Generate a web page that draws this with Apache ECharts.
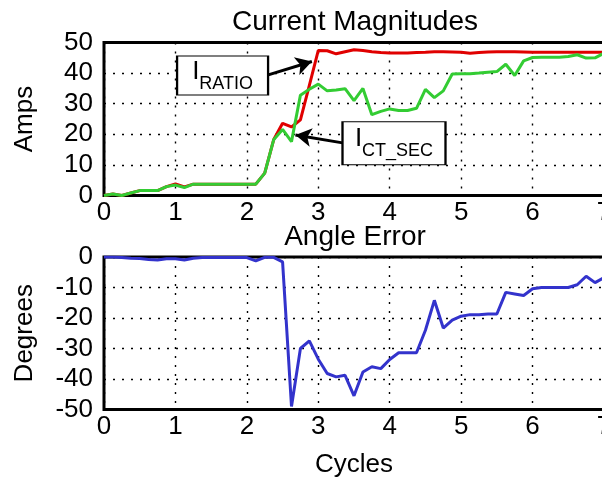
<!DOCTYPE html>
<html>
<head>
<meta charset="utf-8">
<script src="https://cdn.jsdelivr.net/npm/echarts@6/dist/echarts.min.js"></script>
<style>
  html, body { margin: 0; padding: 0; background: #fff; }
  #chart { width: 602px; height: 481px; }
</style>
</head>
<body>
<div id="chart"></div>
<script>
// Sample times in cycles (8 samples per cycle)
const cycles = [
  0, 0.125, 0.25, 0.375, 0.5, 0.625, 0.75, 0.875,
  1, 1.125, 1.25, 1.375, 1.5, 1.625, 1.75, 1.875,
  2, 2.125, 2.25, 2.375, 2.5, 2.625, 2.75, 2.875,
  3, 3.125, 3.25, 3.375, 3.5, 3.625, 3.75, 3.875,
  4, 4.125, 4.25, 4.375, 4.5, 4.625, 4.75, 4.875,
  5, 5.125, 5.25, 5.375, 5.5, 5.625, 5.75, 5.875,
  6, 6.125, 6.25, 6.375, 6.5, 6.625, 6.75, 6.875,
  7
];

// Ratio current (A)
const iRatio = [
  0, 0.5, 0, 0.8, 1.6, 1.6, 1.6, 2.9,
  3.8, 2.8, 3.7, 3.7, 3.7, 3.7, 3.7, 3.7,
  3.7, 3.7, 7.3, 18.2, 23.6, 22.4, 24.7, 36.0,
  47.4, 47.3, 46.3, 47.0, 47.6, 47.4, 47.0, 46.7,
  46.6, 46.6, 46.6, 46.7, 46.8, 47.0, 47.0, 46.9,
  46.8, 46.5, 46.7, 46.9, 47.0, 47.0, 47.0, 46.9,
  46.8, 46.8, 46.8, 46.8, 46.8, 46.8, 46.8, 46.8,
  46.8
];

// CT secondary current (A)
const iCtSec = [
  0, 0.5, 0, 0.8, 1.6, 1.6, 1.6, 2.9,
  3.4, 2.6, 3.7, 3.7, 3.7, 3.7, 3.7, 3.7,
  3.7, 3.7, 7.3, 18.2, 21.6, 17.6, 32.8, 34.7,
  36.4, 34.2, 34.5, 34.9, 31.0, 35.0, 26.4, 27.5,
  28.3, 27.8, 27.8, 28.5, 34.7, 32.0, 34.2, 39.7,
  39.8, 39.8, 40.0, 40.3, 40.5, 42.9, 39.2, 44.0,
  45.1, 45.2, 45.2, 45.2, 45.4, 46.0, 44.9, 45.0,
  46.5
];

// Angle error (degrees)
const angleErr = [
  0, 0, -0.2, -0.4, -0.5, -0.8, -1.0, -0.6,
  -0.6, -1.0, -0.4, -0.2, -0.2, -0.2, -0.2, -0.2,
  -0.2, -1.3, -0.1, -0.1, -1.6, -49.0, -30.0, -27.5,
  -33.5, -38.2, -39.3, -38.8, -45.5, -37.7, -36.0, -36.6,
  -33.6, -31.4, -31.4, -31.4, -24.0, -14.2, -23.3, -20.7,
  -19.4, -18.9, -18.9, -18.7, -18.7, -11.6, -12.1, -12.6,
  -10.4, -10.0, -10.0, -10.0, -10.0, -9.1, -6.3, -8.4,
  -6.8
];

const xTicks = [0, 1, 2, 3, 4, 5, 6, 7];
const ampTicks = [0, 10, 20, 30, 40, 50];
const degTicks = [-50, -40, -30, -20, -10, 0];

const FONT = 'Liberation Sans';
const FS = 26;
const TITLE_FS = 28;

const pair = (ys) => cycles.map((c, i) => [c, ys[i]]);

const gridLine = { show: true, lineStyle: { color: '#000', type: [2, 7], width: 1.4 } };

function xAxisFor(idx, withName) {
  return {
    type: 'value', gridIndex: idx,
    min: xTicks[0], max: xTicks[xTicks.length - 1], interval: 1,
    axisLine: { show: false },
    axisTick: { show: false },
    splitLine: gridLine,
    axisLabel: { color: '#000', fontFamily: FONT, fontSize: FS, margin: 4 },
    name: withName ? 'Cycles' : '',
    nameLocation: 'middle', nameGap: 42,
    nameTextStyle: { color: '#000', fontFamily: FONT, fontSize: FS }
  };
}

function yAxisFor(idx, ticks, name) {
  return {
    type: 'value', gridIndex: idx,
    min: ticks[0], max: ticks[ticks.length - 1], interval: 10,
    axisLine: { show: false },
    axisTick: { show: false },
    splitLine: gridLine,
    axisLabel: { color: '#000', fontFamily: FONT, fontSize: FS, margin: 11 },
    name: name, nameLocation: 'middle', nameGap: 66, nameRotate: 90,
    nameTextStyle: { color: '#000', fontFamily: FONT, fontSize: FS }
  };
}

const boxText = (main, sub) => ({
  formatter: '{i|' + main + '}{s|' + sub + '}',
  position: 'inside',
  rich: {
    i: { fontFamily: FONT, fontSize: 26, color: '#000', verticalAlign: 'top', lineHeight: 34 },
    s: { fontFamily: FONT, fontSize: 18, color: '#000', verticalAlign: 'bottom', lineHeight: 18 }
  }
});

const gridBase = {
  left: 104, width: 500, show: true, outerBoundsMode: 'none', containLabel: false,
  borderColor: '#000', borderWidth: 3, backgroundColor: 'transparent'
};

const titleStyle = { fontFamily: FONT, fontSize: TITLE_FS, fontWeight: 'normal', color: '#000' };

const option = {
  animation: false,
  backgroundColor: '#fff',
  title: [
    { text: 'Current Magnitudes', left: 355, top: 8, textAlign: 'center', padding: 0, textStyle: titleStyle },
    { text: 'Angle Error', left: 355, top: 223, textAlign: 'center', padding: 0, textStyle: titleStyle }
  ],
  grid: [
    Object.assign({ top: 42.5, height: 153 }, gridBase),
    Object.assign({ top: 257, height: 152.5 }, gridBase)
  ],
  xAxis: [xAxisFor(0, false), xAxisFor(1, true)],
  yAxis: [yAxisFor(0, ampTicks, 'Amps'), yAxisFor(1, degTicks, 'Degrees')],
  series: [
    {
      name: 'I_RATIO', type: 'line', xAxisIndex: 0, yAxisIndex: 0,
      data: pair(iRatio), showSymbol: false,
      lineStyle: { color: '#e00000', width: 3 },
      markPoint: {
        symbol: 'rect', symbolSize: [91, 39],
        itemStyle: { color: '#fff', borderColor: '#000', borderWidth: 1.5 },
        label: boxText('I', 'RATIO'),
        data: [{ coord: [1.66, 39.2] }]
      },
      markLine: {
        silent: true, symbol: ['none', 'arrow'], symbolSize: [14, 16],
        lineStyle: { color: '#000', width: 3, type: 'solid' },
        label: { show: false },
        data: [[{ coord: [2.3, 39.4] }, { coord: [2.91, 43.8] }]]
      }
    },
    {
      name: 'I_CT_SEC', type: 'line', xAxisIndex: 0, yAxisIndex: 0,
      data: pair(iCtSec), showSymbol: false,
      lineStyle: { color: '#33cc33', width: 3 },
      markPoint: {
        symbol: 'rect', symbolSize: [103, 43],
        itemStyle: { color: '#fff', borderColor: '#000', borderWidth: 1.5 },
        label: boxText('I', 'CT_SEC'),
        data: [{ coord: [4.06, 17.1] }]
      },
      markLine: {
        silent: true, symbol: ['none', 'arrow'], symbolSize: [14, 16],
        lineStyle: { color: '#000', width: 3, type: 'solid' },
        label: { show: false },
        data: [[{ coord: [3.34, 17.2] }, { coord: [2.68, 19.8] }]]
      }
    },
    {
      name: 'Angle Error', type: 'line', xAxisIndex: 1, yAxisIndex: 1,
      data: pair(angleErr), showSymbol: false,
      lineStyle: { color: '#3333cc', width: 3 }
    }
  ]
};

const chart = echarts.init(document.getElementById('chart'), null, { renderer: 'canvas' });
chart.setOption(option);
</script>
</body>
</html>
